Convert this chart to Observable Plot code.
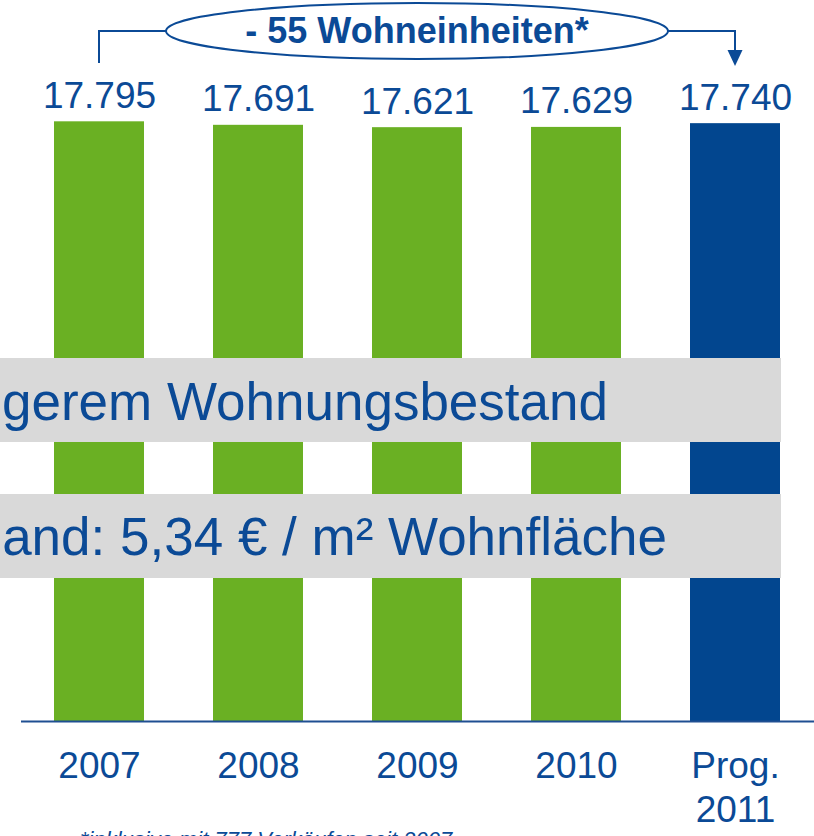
<!DOCTYPE html>
<html><head><meta charset="utf-8">
<script src="https://cdn.jsdelivr.net/npm/d3@7"></script>
<script src="https://cdn.jsdelivr.net/npm/@observablehq/plot@0.6"></script>
<style>html,body{margin:0;padding:0;overflow:hidden;background:#fff}</style>
</head><body><div id="chart"></div>
<script>
const years = ["2007", "2008", "2009", "2010", "Prog.\n2011"];
const units = [17795, 17691, 17621, 17629, 17740];
const kinds = ["Ist", "Ist", "Ist", "Ist", "Prognose"];
const annotation = "- 55 Wohneinheiten*";
const bandTexts = ["gerem Wohnungsbestand", "and: 5,34 € / m² Wohnfläche"];
const footnote = "*inklusive mit 777 Verkäufen seit 2007";

const data = years.map((y, i) => ({year: y, value: units[i], kind: kinds[i]}));
const fmt = d3.formatLocale({decimal: ",", thousands: ".", grouping: [3], currency: ["", "€"]}).format(",d");
const BLUE_TEXT = "#0B4A96";
const FONT = "'Liberation Sans', Arial, sans-serif";

const chart = Plot.plot({
  width: 814, height: 836,
  marginTop: 47, marginBottom: 115, marginLeft: 21, marginRight: 0,
  style: {fontFamily: FONT, background: "white"},
  x: {domain: years, range: [54, 780], paddingInner: 0.434, paddingOuter: 0, axis: null},
  y: {domain: [0, 20000], axis: null},
  color: {domain: ["Ist", "Prognose"], range: ["#6AB023", "#02468F"]},
  marks: [
    Plot.barY(data, {x: "year", y: "value", fill: "kind"}),
    Plot.ruleY([0], {stroke: "#1F4F92", strokeWidth: 2}),
    Plot.text(data, {x: "year", y: "value", text: d => fmt(d.value), dy: -14, lineAnchor: "bottom", fontSize: 37, fill: BLUE_TEXT}),
    Plot.text(data, {x: "year", y: 0, text: "year", dy: 25, lineAnchor: "top", lineHeight: 1.2, fontSize: 37, fill: BLUE_TEXT})
  ]
});
document.getElementById("chart").appendChild(chart);

// slide overlays (grey text boxes, bracket annotation, footnote)
const svg = d3.select(chart);
const xs = chart.scale("x");
const cx = k => xs.apply(k) + xs.bandwidth / 2;
const right = xs.apply(years[years.length - 1]) + xs.bandwidth + 1;
const g = svg.append("g");
const boxes = [{y: 358, h: 84, base: 420, end: 608}, {y: 494, h: 84, base: 555, end: 667}];
boxes.forEach((b, i) => {
  g.append("rect").attr("x", 0).attr("y", b.y).attr("width", right).attr("height", b.h).attr("fill", "#D9D9D9");
  g.append("text").attr("x", b.end).attr("y", b.base).attr("text-anchor", "end")
    .attr("font-size", 53).attr("font-family", FONT).attr("fill", BLUE_TEXT).text(bandTexts[i]);
});

const mid = cx(years[2]), rx = 251, ry = 28, cy = 31;
const x0 = cx(years[0]), x1 = cx(years[4]);
g.append("path").attr("d", `M${x0},63V${cy}H${mid - rx}`).attr("fill", "none").attr("stroke", "#0B4A96").attr("stroke-width", 2);
g.append("path").attr("d", `M${mid + rx},${cy}H${x1}V51`).attr("fill", "none").attr("stroke", "#0B4A96").attr("stroke-width", 2);
g.append("path").attr("d", `M${x1 - 7.5},50L${x1 + 7.5},50L${x1},66Z`).attr("fill", "#0B4A96");
g.append("ellipse").attr("cx", mid).attr("cy", cy).attr("rx", rx).attr("ry", ry)
  .attr("fill", "white").attr("stroke", "#0B4A96").attr("stroke-width", 2);
g.append("text").attr("x", mid).attr("y", 43).attr("text-anchor", "middle")
  .attr("font-size", 36).attr("font-weight", "bold").attr("font-family", FONT).attr("fill", BLUE_TEXT).text(annotation);
g.append("text").attr("x", 80).attr("y", 847).attr("text-anchor", "start").attr("font-size", 22).attr("font-style", "italic")
  .attr("font-family", FONT).attr("fill", BLUE_TEXT).text(footnote);
</script>
</body></html>
